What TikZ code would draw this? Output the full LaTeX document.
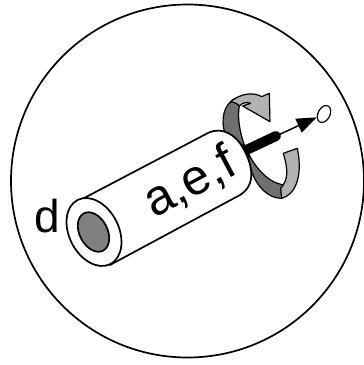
\documentclass[tikz,border=0pt]{standalone}
\usepackage{fontspec}
\setmainfont{Liberation Sans}
\usetikzlibrary{arrows.meta,shapes.geometric}
\definecolor{banddark}{RGB}{112,112,112}
\definecolor{bandlight}{RGB}{178,178,178}
\definecolor{coregray}{RGB}{128,128,128}
\tikzset{
  outline/.style={draw=black, line width=1.7pt, line join=round},
  band/.style={outline, line width=1.2pt},
  biglabel/.style={font=\fontsize{46}{46}\selectfont, inner sep=0pt},
}
\begin{document}
\begin{tikzpicture}[x=1pt, y=-1pt]
        \useasboundingbox (0,0) rectangle (364,365);
        \node[outline, circle, minimum size=353pt, inner sep=0pt] (dish) at (187.5,181) {};
        % twisting arrow, traced from the enlarged crop
        \begin{scope}[x=0.3333pt, y=-0.3333pt, shift={(540,210)}]
          \draw[band, fill=banddark] (135,190) .. controls (122,150) and (130,105) .. (165,85) -- (178,108) .. controls (172,140) and (178,185) .. (195,230) -- cycle;
          \draw[band, fill=bandlight] (150,97) .. controls (180,70) and (220,65) .. (245,80) -- (268,70) -- (270,155) -- (188,108) -- (212,100) .. controls (200,95) and (188,98) .. (178,108) .. controls (172,100) and (160,95) .. (150,97) -- cycle;
          \draw[band, fill=banddark] (205,250) .. controls (205,310) and (245,385) .. (305,385) -- (318,345) .. controls (280,345) and (235,310) .. (205,250) -- cycle;
          \draw[band, fill=bandlight] (305,385) .. controls (345,375) and (370,320) .. (352,235) -- (310,250) .. controls (325,300) and (325,330) .. (302,355) -- cycle;
        \end{scope}
        % screw and shaft
        \coordinate (screwroot) at (240,153);
        \coordinate (screwtip) at (276,136);
        \node[outline, ellipse, line width=1.2pt, minimum width=18pt, minimum height=12pt, inner sep=0pt, rotate=63] (pin) at (324,114) {};
        \draw[line width=1.5pt, -{Triangle[length=20pt, width=15pt]}] (screwtip) -- (pin);
        \draw[line width=10pt, black, line cap=round] (screwroot) -- (screwtip);
        % tube
        \draw[outline, fill=white] (81.7,199.3) -- (208,133) .. controls (222,126) and (236,135) .. (243,148) .. controls (251,162) and (258,184) .. (240,195) -- (110,265) -- cycle;
        \node[outline, fill=white, ellipse, minimum width=72pt, minimum height=49.6pt, inner sep=0pt, rotate=117] (rim) at (94,232) {};
        \node[outline, fill=coregray, ellipse, minimum width=42pt, minimum height=28pt, inner sep=0pt, rotate=117] (core) at (93.5,232) {};
        \node[biglabel] (dlabel) at (47,216) {d};
        \node[biglabel, font=\fontsize{50}{50}\selectfont, rotate=28] (aeflabel) at (190,183) {a,e,f};
      \end{tikzpicture}
\end{document}
